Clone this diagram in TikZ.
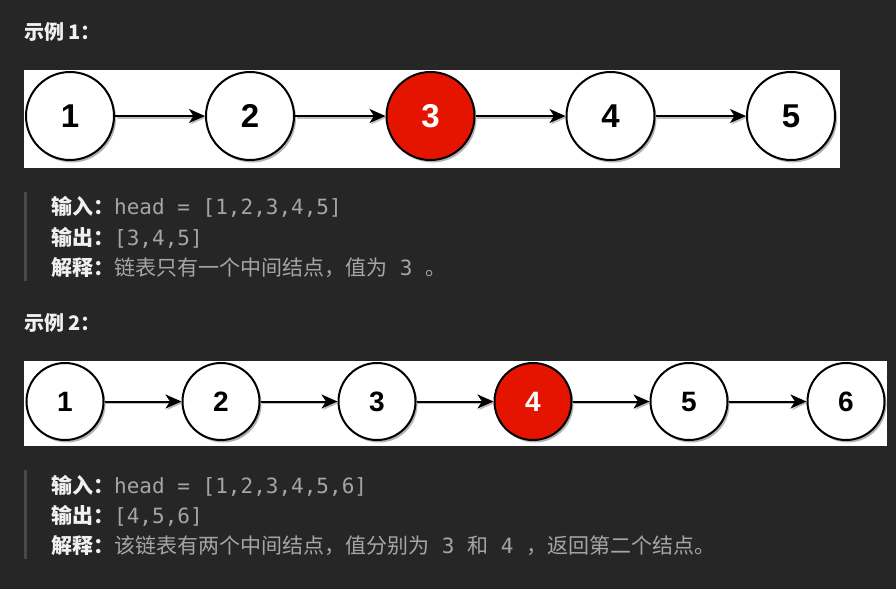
\documentclass[tikz,border=0pt]{standalone}
\usepackage{fontspec}
\usetikzlibrary{arrows.meta,shadows}
\newfontfamily\cjkfont{Noto Sans CJK SC}
\newfontfamily\monofont{DejaVu Sans Mono}
\newfontfamily\digitfont{Liberation Sans}
\definecolor{bgc}{RGB}{38,38,38}
\definecolor{barc}{RGB}{72,72,72}
\definecolor{labc}{RGB}{240,240,240}
\definecolor{valc}{RGB}{165,165,165}
\definecolor{nodered}{RGB}{229,20,0}
\newcommand{\mylab}[1]{{\cjkfont\bfseries\color{labc}#1}}
\newcommand{\mycode}[1]{{\monofont\color{valc}#1}}
\newcommand{\myzh}[1]{{\cjkfont\color{valc}#1}}
\pgfdeclarelayer{back}
\pgfdeclarelayer{shade}
\pgfsetlayers{back,shade,main}
\tikzset{
  llnode/.style={circle, draw=black, line width=2pt, fill=white, inner sep=0pt,
    drop shadow={shadow xshift=2pt, shadow yshift=-2.5pt, opacity=0.3, fill=black}},
  bignode/.style={llnode, minimum size=88pt, font=\digitfont\bfseries\fontsize{33}{33}\selectfont},
  smallnode/.style={llnode, minimum size=77pt, font=\digitfont\bfseries\fontsize{28}{28}\selectfont},
  rednode/.style={fill=nodered, text=white},
  link/.style={line width=2pt, -{Stealth[length=16pt,width=14pt,inset=4.5pt]}},
  linkshade/.style={link, draw=black!25, transform canvas={xshift=1.5pt,yshift=-1.5pt}},
  txt/.style={anchor=base west, inner sep=0pt, font=\fontsize{21}{25}\selectfont},
  head/.style={anchor=base west, inner sep=0pt, font=\cjkfont\bfseries\fontsize{20}{24}\selectfont, text=labc},
  panel/.style={fill=white, draw=none},
  quotebar/.style={fill=barc, draw=none}
}
\begin{document}
\begin{tikzpicture}[x=1pt,y=-1pt]
\useasboundingbox (0,0) rectangle (896,589);
\begin{pgfonlayer}{back}
\path[fill=bgc] (0,0) rectangle (896,589);
\path[panel] (24,70) rectangle (840,168);
\path[panel] (24,361) rectangle (887,446);
\end{pgfonlayer}

% example 1
\node[head] (h1) at (24,39.5) {示例 1：};
\node[bignode] (a1) at (70,116) {1};
\node[bignode] (a2) at (250,116) {2};
\node[bignode,rednode] (a3) at (430.5,116) {3};
\node[bignode] (a4) at (610.5,116) {4};
\node[bignode] (a5) at (791,116) {5};
\begin{pgfonlayer}{shade}
\foreach \i/\j in {a1/a2,a2/a3,a3/a4,a4/a5} \draw[linkshade] (\i) -- (\j);
\end{pgfonlayer}
\foreach \i/\j in {a1/a2,a2/a3,a3/a4,a4/a5} \draw[link] (\i) -- (\j);

\path[quotebar] (24,192) rectangle (27,281);
\node[txt] (in1) at (51,214) {\mylab{输入：}\mycode{head = [1,2,3,4,5]}};
\node[txt] (out1) at (51,245) {\mylab{输出：}\mycode{[3,4,5]}};
\node[txt] (ex1) at (51,275) {\mylab{解释：}\myzh{链表只有一个中间结点，值为}\mycode{~3~}\myzh{。}};

% example 2
\node[head] (h2) at (24,330.5) {示例 2：};
\node[smallnode] (b1) at (65,401.5) {1};
\node[smallnode] (b2) at (221,401.5) {2};
\node[smallnode] (b3) at (377,401.5) {3};
\node[smallnode,rednode] (b4) at (533,401.5) {4};
\node[smallnode] (b5) at (689,401.5) {5};
\node[smallnode] (b6) at (846,401.5) {6};
\begin{pgfonlayer}{shade}
\foreach \i/\j in {b1/b2,b2/b3,b3/b4,b4/b5,b5/b6} \draw[linkshade] (\i) -- (\j);
\end{pgfonlayer}
\foreach \i/\j in {b1/b2,b2/b3,b3/b4,b4/b5,b5/b6} \draw[link] (\i) -- (\j);

\path[quotebar] (24,470) rectangle (27,559);
\node[txt] (in2) at (51,493) {\mylab{输入：}\mycode{head = [1,2,3,4,5,6]}};
\node[txt] (out2) at (51,523) {\mylab{输出：}\mycode{[4,5,6]}};
\node[txt] (ex2) at (51,553) {\mylab{解释：}\myzh{该链表有两个中间结点，值分别为}\mycode{~3~}\myzh{和}\mycode{~4~}\myzh{，返回第二个结点。}};
\end{tikzpicture}
\end{document}
